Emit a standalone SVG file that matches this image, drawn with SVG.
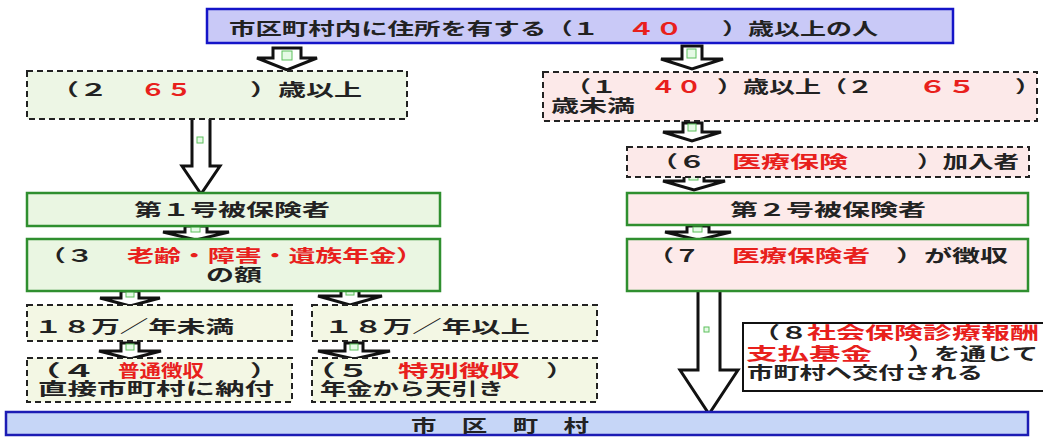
<svg xmlns="http://www.w3.org/2000/svg" width="1043" height="437" viewBox="0 0 1043 437">
<style>
text{font-family:"Noto Sans CJK JP","Noto Sans CJK SC",sans-serif;font-weight:bold;font-size:17px;fill:#222;}
.r{fill:#e8201c;}
.blue{fill:#c9c9f7;stroke:#1414c8;stroke-width:2.5;}
.blue2{fill:#c6d6f7;stroke:#1c1cb4;stroke-width:2.5;}
.gs{fill:#eaf6e2;stroke:#2f8f2f;stroke-width:2.5;}
.ps{fill:#fdeaea;stroke:#2f8f2f;stroke-width:2.5;}
.gd{fill:#edf6e5;stroke:#222;stroke-width:2;stroke-dasharray:6 4;}
.yd{fill:#f3f7e4;stroke:#222;stroke-width:2;stroke-dasharray:6 4;}
.pd{fill:#fce9e9;stroke:#222;stroke-width:2;stroke-dasharray:6 4;}
.wb{fill:#fff;stroke:#111;stroke-width:2;}
.ar{fill:#fff;stroke:#111;stroke-width:3;stroke-linejoin:miter;}
.sq{fill:#e6fae6;stroke:#5cc05c;stroke-width:1;}
</style>

<g id="connectors">
  <path class="ar" d="M273,48 H301 V58 H317 L287,70 L257,58 H273 Z"/>
  <rect class="sq" x="282" y="51" width="10" height="9"/>
  <path class="ar" d="M682,46 H702 V59 H723 L692,69 L661,59 H682 Z"/>
  <rect class="sq" x="687" y="49" width="9" height="9"/>
  <path class="ar" d="M683,123 H702 V132 H721 L692,141 L663,132 H683 Z"/>
  <rect class="sq" x="688" y="124" width="8" height="7"/>
  <path class="ar" d="M684,172 H704 V181 H725 L694,190 L663,181 H684 Z"/>
  <rect class="sq" x="689" y="173" width="9" height="7"/>
  <path class="ar" d="M687,226 H709 V232 H731 L698,240 L665,232 H687 Z"/>
  <rect class="sq" x="693" y="227" width="9" height="5"/>
  <path class="ar" d="M185,226 H207 V232 H229 L196,240 L163,232 H185 Z"/>
  <rect class="sq" x="191" y="227" width="9" height="5"/>
  <path class="ar" d="M121,291 H139 V298 H160 L130,306 L100,298 H121 Z"/>
  <rect class="sq" x="126" y="292" width="8" height="5"/>
  <path class="ar" d="M341,288 H359 V296 H382 L350,305 L318,296 H341 Z"/>
  <rect class="sq" x="346" y="289" width="8" height="6"/>
  <path class="ar" d="M121,343 H139 V351 H161 L130,359 L99,351 H121 Z"/>
  <rect class="sq" x="126" y="344" width="8" height="6"/>
  <path class="ar" d="M345,343 H363 V351 H390 L354,359 L318,351 H345 Z"/>
  <rect class="sq" x="350" y="344" width="8" height="6"/>
  <path class="ar" d="M192,113 H210 V166 H220 L201,194 L182,166 H192 Z"/>
  <rect class="sq" x="197" y="137" width="6" height="6"/>
  <path class="ar" d="M698,290 H720 V370 H738 L709,414 L680,370 H698 Z"/>
  <rect class="sq" x="704" y="327" width="5" height="5"/>
</g>

<g id="n-top">
  <rect class="blue" x="207" y="9" width="746" height="34"/>
  <text x="229" y="35" textLength="370" lengthAdjust="spacingAndGlyphs">市区町村内に住所を有する（１</text>
  <text class="r" x="627" y="35" textLength="56" lengthAdjust="spacingAndGlyphs">４０</text>
  <text x="722" y="35" textLength="156" lengthAdjust="spacingAndGlyphs">）歳以上の人</text>
</g>

<g id="n-65over">
  <rect class="gd" x="27" y="71" width="380" height="48"/>
  <text x="50" y="96" textLength="58" lengthAdjust="spacingAndGlyphs">（２</text>
  <text class="r" x="140" y="96" textLength="52" lengthAdjust="spacingAndGlyphs">６５</text>
  <text x="250" y="96" textLength="112" lengthAdjust="spacingAndGlyphs">）歳以上</text>
</g>

<g id="n-40to65">
  <rect class="pd" x="543" y="72" width="494" height="49"/>
  <text x="565" y="93" textLength="52" lengthAdjust="spacingAndGlyphs">（１</text>
  <text class="r" x="650" y="93" textLength="52" lengthAdjust="spacingAndGlyphs">４０</text>
  <text x="717" y="93" textLength="156" lengthAdjust="spacingAndGlyphs">）歳以上（２</text>
  <text class="r" x="918" y="93" textLength="58" lengthAdjust="spacingAndGlyphs">６５</text>
  <text x="1015" y="93" textLength="26" lengthAdjust="spacingAndGlyphs">）</text>
  <text x="551" y="112" textLength="84" lengthAdjust="spacingAndGlyphs">歳未満</text>
</g>

<g id="n-iryo">
  <rect class="pd" x="627" y="147" width="402" height="30"/>
  <text x="650" y="168" textLength="56" lengthAdjust="spacingAndGlyphs">（６</text>
  <text class="r" x="732" y="168" textLength="116" lengthAdjust="spacingAndGlyphs">医療保険</text>
  <text x="917" y="168" textLength="102" lengthAdjust="spacingAndGlyphs">）加入者</text>
</g>

<g id="n-dai1">
  <rect class="gs" x="27" y="193" width="413" height="33"/>
  <text x="134" y="216" textLength="196" lengthAdjust="spacingAndGlyphs">第１号被保険者</text>
</g>

<g id="n-dai2">
  <rect class="ps" x="627" y="193" width="401" height="32"/>
  <text x="730" y="216" textLength="196" lengthAdjust="spacingAndGlyphs">第２号被保険者</text>
</g>

<g id="n-nenkin">
  <rect class="gs" x="27" y="239" width="413" height="52"/>
  <text x="38" y="262" textLength="56" lengthAdjust="spacingAndGlyphs">（３</text>
  <text class="r" x="127" y="262" textLength="296" lengthAdjust="spacingAndGlyphs">老齢・障害・遺族年金）</text>
  <text x="206" y="281" textLength="56" lengthAdjust="spacingAndGlyphs">の額</text>
</g>

<g id="n-choshu">
  <rect class="ps" x="627" y="239" width="401" height="52"/>
  <text x="648" y="262" textLength="52" lengthAdjust="spacingAndGlyphs">（７</text>
  <text class="r" x="732" y="262" textLength="138" lengthAdjust="spacingAndGlyphs">医療保険者</text>
  <text x="896" y="262" textLength="112" lengthAdjust="spacingAndGlyphs">）が徴収</text>
</g>

<g id="n-under18">
  <rect class="yd" x="27" y="305" width="265" height="36"/>
  <text x="34" y="333" textLength="200" lengthAdjust="spacingAndGlyphs">１８万／年未満</text>
</g>

<g id="n-over18">
  <rect class="yd" x="312" y="305" width="285" height="36"/>
  <text x="324" y="333" textLength="206" lengthAdjust="spacingAndGlyphs">１８万／年以上</text>
</g>

<g id="n-futsu">
  <rect class="yd" x="27" y="358" width="265" height="44"/>
  <text x="26" y="377" textLength="70" lengthAdjust="spacingAndGlyphs">（４</text>
  <text class="r" x="118" y="377" textLength="86" lengthAdjust="spacingAndGlyphs">普通徴収</text>
  <text x="250" y="377" textLength="28" lengthAdjust="spacingAndGlyphs">）</text>
  <text x="38" y="395" textLength="236" lengthAdjust="spacingAndGlyphs">直接市町村に納付</text>
</g>

<g id="n-tokubetsu">
  <rect class="yd" x="312" y="358" width="285" height="44"/>
  <text x="302" y="377" textLength="68" lengthAdjust="spacingAndGlyphs">（５</text>
  <text class="r" x="398" y="377" textLength="122" lengthAdjust="spacingAndGlyphs">特別徴収</text>
  <text x="546" y="377" textLength="28" lengthAdjust="spacingAndGlyphs">）</text>
  <text x="320" y="395" textLength="184" lengthAdjust="spacingAndGlyphs">年金から天引き</text>
</g>

<g id="n-kikin">
  <rect class="wb" x="743" y="323" width="306" height="68"/>
  <text x="752" y="339" textLength="56" lengthAdjust="spacingAndGlyphs">（８</text>
  <text class="r" x="807" y="339" textLength="232" lengthAdjust="spacingAndGlyphs">社会保険診療報酬</text>
  <text class="r" x="746" y="360" textLength="126" lengthAdjust="spacingAndGlyphs">支払基金</text>
  <text x="908" y="360" textLength="130" lengthAdjust="spacingAndGlyphs">）を通じて</text>
  <text x="747" y="379" textLength="236" lengthAdjust="spacingAndGlyphs">市町村へ交付される</text>
</g>

<g id="n-shikuchoson">
  <rect class="blue2" x="6" y="412" width="1022" height="23"/>
  <text x="411" y="432" textLength="178" lengthAdjust="spacingAndGlyphs">市　区　町　村</text>
</g>
</svg>
